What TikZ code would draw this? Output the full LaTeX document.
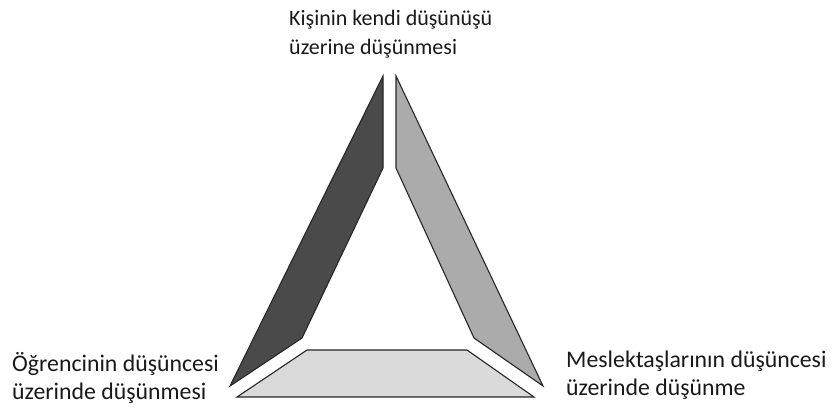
\documentclass[tikz,border=0pt]{standalone}
\usepackage{fontspec}
\setmainfont{Carlito}
\usetikzlibrary{positioning}
\definecolor{bardark}{HTML}{4A4A4A}
\definecolor{barmid}{HTML}{ABABAB}
\definecolor{barlight}{HTML}{DADADA}
\tikzset{
  bar/.style={draw=black!85, line width=1.1pt, line join=miter},
  thought/.style={align=left, inner sep=0pt, text=black!90,
    font=\fontsize{23.8}{28}\selectfont}
}

\begin{document}
\begin{tikzpicture}[x=1pt, y=-1pt]
    \useasboundingbox (0, 0) rectangle (832, 407);
    % left bar
    \filldraw[bar, fill=bardark] (383, 76) -- (383, 168) -- (302, 338) -- (230, 386) -- cycle;
    % right bar
    \filldraw[bar, fill=barmid] (396, 76) -- (396, 168) -- (474, 338) -- (543, 386) -- cycle;
    % bottom bar
    \filldraw[bar, fill=barlight] (307, 350) -- (467, 350) -- (534, 397) -- (237, 397) -- cycle;
    % texts
    \node[thought, anchor=west, font=\fontsize{22}{29}\selectfont] (self) at (289, 34) {Kişinin kendi düşünüşü\\üzerine düşünmesi};
    \node[thought, anchor=west] (student) at (12, 378) {Öğrencinin düşüncesi\\üzerinde düşünmesi};
    \node[thought, anchor=west] (peers) at (566, 375) {Meslektaşlarının düşüncesi\\üzerinde düşünme};
\end{tikzpicture}
\end{document}
